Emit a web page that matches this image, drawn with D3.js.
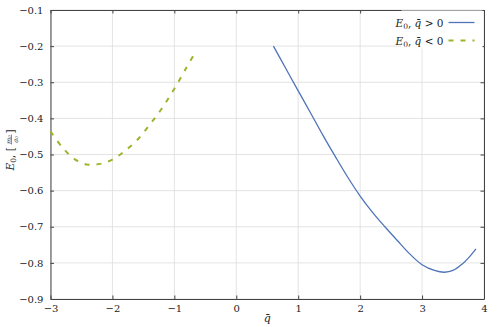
<!DOCTYPE html>
<html>
<head>
<meta charset="utf-8">
<script src="https://cdn.jsdelivr.net/npm/d3@7"></script>
<style>
  body { margin: 0; background: #fff; }
  svg text { font-family: "DejaVu Serif", serif; fill: #222; }
</style>
</head>
<body>
<div id="chart"></div>
<script>
// curve for q > 0 (solid blue)
const qPos = [0.60, 0.80, 1.00, 1.20, 1.40, 1.60, 1.80, 2.00, 2.20, 2.40, 2.60, 2.80, 3.00, 3.20, 3.36, 3.50, 3.65, 3.75, 3.87];
const ePos = [-0.200, -0.262, -0.324, -0.385, -0.447, -0.506, -0.563, -0.615, -0.660, -0.700, -0.738, -0.775, -0.805, -0.821, -0.826, -0.821, -0.803, -0.786, -0.761];

// curve for q < 0 (dashed green)
const qNeg = [-3.0, -2.8, -2.6, -2.4, -2.2, -2.0, -1.8, -1.6, -1.4, -1.2, -1.0, -0.8, -0.66];
const eNeg = [-0.436, -0.482, -0.514, -0.528, -0.526, -0.514, -0.490, -0.460, -0.418, -0.372, -0.318, -0.258, -0.217];

const xTicks = [-3, -2, -1, 0, 1, 2, 3, 4];
const yTicks = [-0.9, -0.8, -0.7, -0.6, -0.5, -0.4, -0.3, -0.2, -0.1];

const width = 498, height = 327;
const margin = { top: 10, right: 14, bottom: 28, left: 50.5 };
const iw = width - margin.left - margin.right;
const ih = height - margin.top - margin.bottom;
const serif = "'DejaVu Serif', serif";

const svg = d3.select("#chart").append("svg")
  .attr("width", width)
  .attr("height", height)
  .attr("font-family", serif);

const g = svg.append("g").attr("transform", `translate(${margin.left},${margin.top})`);

const x = d3.scaleLinear().domain([-3, 4]).range([0, iw]);
const y = d3.scaleLinear().domain([-0.9, -0.1]).range([ih, 0]);

const fmt = d => d3.format(".1f")(d).replace("-", "\u2212");
const fmtX = d => String(d).replace("-", "\u2212");

// grid
g.append("g").selectAll("line").data(xTicks).join("line")
  .attr("x1", d => x(d)).attr("x2", d => x(d))
  .attr("y1", 0).attr("y2", ih)
  .attr("stroke", "#dcdcdc").attr("stroke-width", 0.8);
g.append("g").selectAll("line").data(yTicks).join("line")
  .attr("y1", d => y(d)).attr("y2", d => y(d))
  .attr("x1", 0).attr("x2", iw)
  .attr("stroke", "#dcdcdc").attr("stroke-width", 0.8);

// axes (inward ticks on all four sides)
const axisStyle = sel => {
  sel.attr("font-family", serif);
  sel.select(".domain").attr("stroke", "#444").attr("stroke-width", 1);
  sel.selectAll(".tick line").attr("stroke", "#444");
  sel.selectAll("text").attr("font-size", 10).attr("fill", "#222");
};
g.append("g").attr("transform", `translate(0,${ih})`)
  .call(d3.axisBottom(x).tickValues(xTicks).tickFormat(fmtX).tickSizeInner(-3.5).tickSizeOuter(0).tickPadding(6))
  .call(axisStyle);
g.append("g")
  .call(d3.axisLeft(y).tickValues(yTicks).tickFormat(fmt).tickSizeInner(-3.5).tickSizeOuter(0).tickPadding(7))
  .call(axisStyle);
g.append("g")
  .call(d3.axisTop(x).tickValues(xTicks).tickFormat("").tickSizeInner(-3.5).tickSizeOuter(0))
  .call(axisStyle);
g.append("g").attr("transform", `translate(${iw},0)`)
  .call(d3.axisRight(y).tickValues(yTicks).tickFormat("").tickSizeInner(-3.5).tickSizeOuter(0))
  .call(axisStyle);

// curves
const line = d3.line().x(d => x(d[0])).y(d => y(d[1])).curve(d3.curveCatmullRom);
const posData = qPos.map((q, i) => [q, ePos[i]]);
const negData = qNeg.map((q, i) => [q, eNeg[i]]);

g.append("path").datum(posData)
  .attr("d", line).attr("fill", "none")
  .attr("stroke", "#4f74ba").attr("stroke-width", 1.3);
g.append("path").datum(negData)
  .attr("d", line).attr("fill", "none")
  .attr("stroke", "#9ab52c").attr("stroke-width", 2)
  .attr("stroke-dasharray", "5,7");

// legend
const legend = g.append("g");
legend.append("rect")
  .attr("x", 351).attr("y", 0.5).attr("width", iw - 351 - 1.5).attr("height", 38)
  .attr("fill", "#fff");
const items = [
  { rel: " > 0", color: "#4f74ba", dash: null, w: 1.3 },
  { rel: " < 0", color: "#9ab52c", dash: "5,7", w: 2 }
];
items.forEach((it, i) => {
  const yy = 12.5 + i * 18;
  const t = legend.append("text")
    .attr("x", 393).attr("y", yy + 4).attr("text-anchor", "end").attr("font-size", 10.5);
  t.append("tspan").attr("font-style", "italic").text("E");
  t.append("tspan").attr("font-size", 7.5).attr("dy", 2).text("0");
  t.append("tspan").attr("dy", -2).text(", ");
  t.append("tspan").attr("font-style", "italic").text("q\u0304");
  t.append("tspan").text(it.rel);
  legend.append("line")
    .attr("x1", 398).attr("x2", 424).attr("y1", yy).attr("y2", yy)
    .attr("stroke", it.color).attr("stroke-width", it.w)
    .attr("stroke-dasharray", it.dash);
});

// x label
svg.append("text")
  .attr("x", margin.left + iw / 2).attr("y", 322)
  .attr("text-anchor", "middle").attr("font-size", 11).attr("font-style", "italic")
  .text("q\u0304");

// y label
const yl = svg.append("g").attr("transform", `translate(14,${margin.top + ih / 2 - 4}) rotate(-90)`);
const yt = yl.append("text").attr("x", -20).attr("y", 0).attr("text-anchor", "start").attr("font-size", 10.5);
yt.append("tspan").attr("font-style", "italic").text("E");
yt.append("tspan").attr("font-size", 7.5).attr("dy", 2).text("0");
yt.append("tspan").attr("dy", -2).text(", [");
yl.append("text").attr("x", 11).attr("y", -3.5).attr("text-anchor", "middle").attr("font-size", 6.5)
  .attr("font-style", "italic").text("m\u2080");
yl.append("line").attr("x1", 6).attr("x2", 16).attr("y1", -2.5).attr("y2", -2.5)
  .attr("stroke", "#222").attr("stroke-width", 0.5);
yl.append("text").attr("x", 11).attr("y", 4).attr("text-anchor", "middle").attr("font-size", 6.5)
  .attr("font-style", "italic").text("a\u2080");
yl.append("text").attr("x", 17).attr("y", 0).attr("font-size", 10.5).text("]");
</script>
</body>
</html>
